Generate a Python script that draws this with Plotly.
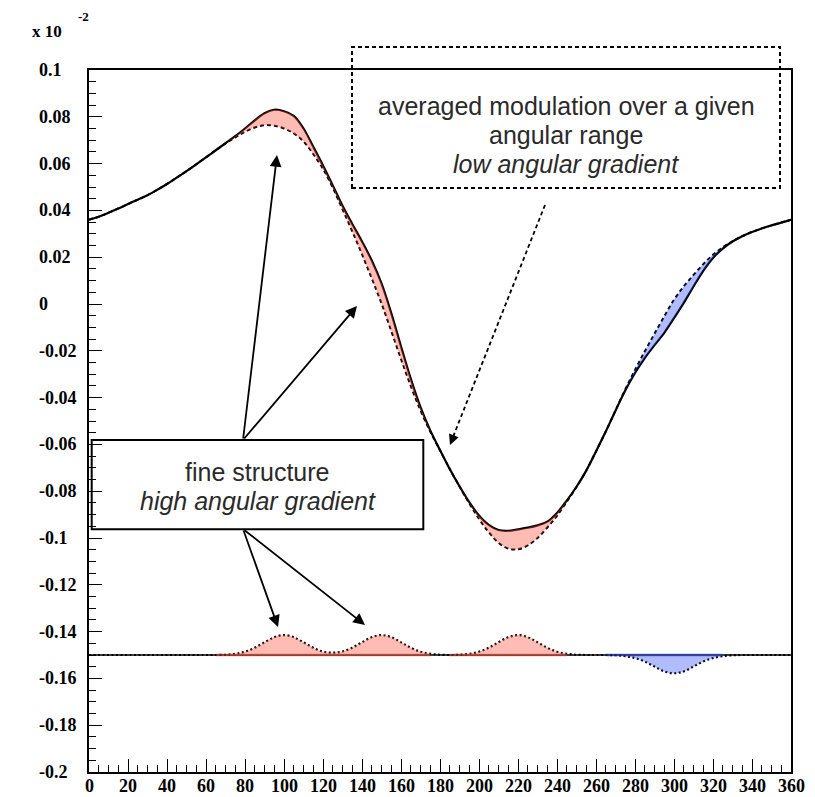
import plotly.graph_objects as go

# ---------------- data (units of 10^-2) ----------------
ANGLE = list(range(0, 361, 5))

AVERAGED = [0.0360, 0.0373, 0.0390, 0.0408, 0.0427, 0.0446, 0.0465, 0.0488, 0.0513, 0.0540,
            0.0568, 0.0597, 0.0627, 0.0657, 0.0686, 0.0712, 0.0736, 0.0754, 0.0764, 0.0762,
            0.0750, 0.0729, 0.0695, 0.0641, 0.0578, 0.0497, 0.0405, 0.0311, 0.0213, 0.0110,
            0.0003, -0.0115, -0.0235, -0.0350, -0.0455, -0.0545, -0.0625, -0.0705, -0.0780, -0.0852,
            -0.0918, -0.0975, -0.1020, -0.1045, -0.1048, -0.1032, -0.1000, -0.0955, -0.0905, -0.0845,
            -0.0782, -0.0712, -0.0630, -0.0545, -0.0455, -0.0365, -0.0282, -0.0203, -0.0127, -0.0053,
            0.0018, 0.0075, 0.0124, 0.0170, 0.0210, 0.0242, 0.0268, 0.0290, 0.0308, 0.0323,
            0.0336, 0.0348, 0.0360]

TOTAL = [0.0360, 0.0373, 0.0390, 0.0408, 0.0427, 0.0446, 0.0465, 0.0488, 0.0513, 0.0540,
         0.0568, 0.0597, 0.0627, 0.0657, 0.0687, 0.0717, 0.0750, 0.0785, 0.0815, 0.0830,
         0.0824, 0.0804, 0.0750, 0.0672, 0.0592, 0.0507, 0.0420, 0.0342, 0.0267, 0.0186,
         0.0088, -0.0039, -0.0181, -0.0319, -0.0441, -0.0540, -0.0624, -0.0705, -0.0779, -0.0847,
         -0.0904, -0.0944, -0.0966, -0.0969, -0.0963, -0.0956, -0.0946, -0.0930, -0.0893, -0.0840,
         -0.0781, -0.0712, -0.0630, -0.0545, -0.0456, -0.0370, -0.0295, -0.0231, -0.0176, -0.0123,
         -0.0060, 0.0005, 0.0075, 0.0142, 0.0197, 0.0237, 0.0267, 0.0290, 0.0308, 0.0323,
         0.0336, 0.0348, 0.0360]

FINE = [-0.1500, -0.1500, -0.1500, -0.1500, -0.1500, -0.1500, -0.1500, -0.1500, -0.1500, -0.1500,
        -0.1500, -0.1500, -0.1500, -0.1500, -0.1499, -0.1495, -0.1486, -0.1469, -0.1446, -0.1424,
        -0.1415, -0.1424, -0.1446, -0.1469, -0.1486, -0.1490, -0.1485, -0.1469, -0.1446, -0.1424,
        -0.1415, -0.1424, -0.1446, -0.1469, -0.1486, -0.1495, -0.1499, -0.1500, -0.1499, -0.1495,
        -0.1486, -0.1469, -0.1446, -0.1424, -0.1415, -0.1424, -0.1446, -0.1469, -0.1486, -0.1495,
        -0.1499, -0.1500, -0.1500, -0.1500, -0.1501, -0.1505, -0.1513, -0.1528, -0.1549, -0.1570,
        -0.1578, -0.1570, -0.1549, -0.1528, -0.1513, -0.1505, -0.1501, -0.1500, -0.1500, -0.1500,
        -0.1500, -0.1500, -0.1500]

BASELINE = -0.15

RED_SEGMENTS = [(65, 125), (125, 175), (185, 245)]
BLUE_SEGMENTS = [(265, 325)]

Y_TICKS = [0.1, 0.08, 0.06, 0.04, 0.02, 0.0, -0.02, -0.04, -0.06, -0.08, -0.1,
           -0.12, -0.14, -0.16, -0.18, -0.2]
Y_TICK_LABELS = ["0.1", "0.08", "0.06", "0.04", "0.02", "0", "-0.02", "-0.04", "-0.06",
                 "-0.08", "-0.1", "-0.12", "-0.14", "-0.16", "-0.18", "-0.2"]
X_TICKS = list(range(0, 361, 20))
X_TICK_LABELS = [str(t) for t in X_TICKS]

RED_FILL = "rgba(255,80,60,0.38)"
BLUE_FILL = "rgba(40,70,240,0.36)"

# ---------------- geometry helpers (pixel -> paper) ----------------
W, H = 815, 797
ML, MR, MT, MB = 89, 24, 70, 25
PW, PH = W - ML - MR, H - MT - MB


def px(x):
    return (x - ML) / PW


def py(y):
    return (H - MB - y) / PH


def seg(lo, hi, arr):
    idx = [i for i, a in enumerate(ANGLE) if lo <= a <= hi]
    return [ANGLE[i] for i in idx], [arr[i] for i in idx]


fig = go.Figure()

# averaged (dashed) curve
fig.add_trace(go.Scatter(x=ANGLE, y=AVERAGED, mode="lines",
                         line=dict(color="black", width=2, dash="4px,3px", shape="spline"),
                         hoverinfo="skip"))
# total (solid) curve
fig.add_trace(go.Scatter(x=ANGLE, y=TOTAL, mode="lines",
                         line=dict(color="black", width=2.2, shape="spline"),
                         hoverinfo="skip"))
# baseline
fig.add_trace(go.Scatter(x=[ANGLE[0], ANGLE[-1]], y=[BASELINE, BASELINE], mode="lines",
                         line=dict(color="black", width=1.3), hoverinfo="skip"))
# fine structure (dotted)
fig.add_trace(go.Scatter(x=ANGLE, y=FINE, mode="lines",
                         line=dict(color="black", width=2.2, dash="2px,2.5px", shape="spline"),
                         hoverinfo="skip"))

# fills between averaged and total curves, and between baseline and fine structure
for segs, col in ((RED_SEGMENTS, RED_FILL), (BLUE_SEGMENTS, BLUE_FILL)):
    for lo, hi in segs:
        xs, d = seg(lo, hi, AVERAGED)
        _, s = seg(lo, hi, TOTAL)
        fig.add_trace(go.Scatter(x=xs, y=d, mode="lines",
                                 line=dict(width=0, shape="spline"), hoverinfo="skip"))
        fig.add_trace(go.Scatter(x=xs, y=s, mode="lines", fill="tonexty", fillcolor=col,
                                 line=dict(width=0, shape="spline"), hoverinfo="skip"))
        _, f = seg(lo, hi, FINE)
        fig.add_trace(go.Scatter(x=xs, y=[BASELINE] * len(xs), mode="lines",
                                 line=dict(width=3, color=col), hoverinfo="skip"))
        fig.add_trace(go.Scatter(x=xs, y=f, mode="lines", fill="tonexty", fillcolor=col,
                                 line=dict(width=0, shape="spline"), hoverinfo="skip"))

tick_font = dict(family="Liberation Serif", size=18, color="black", weight="bold")

annotations = []
for v, lab in zip(Y_TICKS, Y_TICK_LABELS):
    annotations.append(dict(x=px(37), y=v, xref="paper", yref="y", text=lab,
                            showarrow=False, xanchor="left", yanchor="middle", font=tick_font))
for v, lab in zip(X_TICKS, X_TICK_LABELS):
    annotations.append(dict(x=v, y=py(785.5), xref="x", yref="paper", text=lab,
                            showarrow=False, xanchor="center", yanchor="middle", font=tick_font))

annotations.append(dict(x=px(30), y=py(32), xref="paper", yref="paper", text="x 10",
                        showarrow=False, xanchor="left", yanchor="middle",
                        font=dict(family="Liberation Serif", size=17, color="black", weight="bold")))
annotations.append(dict(x=px(76), y=py(17), xref="paper", yref="paper", text="-2",
                        showarrow=False, xanchor="left", yanchor="middle",
                        font=dict(family="Liberation Serif", size=13, color="black", weight="bold")))

txt_font = dict(family="Liberation Sans", size=25, color="#2a2a2a")
for text, x, y in [("averaged modulation over a given", 566, 106),
                   ("angular range", 566, 135),
                   ("<i>low angular gradient</i>", 566, 164),
                   ("fine structure", 257.5, 472),
                   ("<i>high angular gradient</i>", 257.5, 501)]:
    annotations.append(dict(x=px(x), y=py(y), xref="paper", yref="paper", text=text,
                            showarrow=False, xanchor="center", yanchor="middle", font=txt_font))


def dx(p):
    return (p - ML) / 1.95


def dy(p):
    return 0.1 - (p - MT) / 2340.0


arrow_style = dict(showarrow=True, arrowhead=2, arrowsize=1.3, arrowwidth=1.8,
                   arrowcolor="black", xref="x", yref="y", axref="x", ayref="y", text="")
for (tx, ty), (hx, hy) in [((243, 440), (277, 155)), ((243, 440), (357, 306)),
                           ((243, 529), (278, 627)), ((243, 529), (365, 625))]:
    annotations.append(dict(x=dx(hx), y=dy(hy), ax=dx(tx), ay=dy(ty), **arrow_style))

# dashed arrow head
annotations.append(dict(x=dx(450), y=dy(445), ax=5.2, ay=-13, xref="x", yref="y",
                        showarrow=True, arrowhead=2, arrowsize=1.3, arrowwidth=1.6,
                        arrowcolor="black", text=""))

shapes = [
    dict(type="rect", xref="paper", yref="paper", x0=px(91.7), x1=px(423.3),
         y0=py(529.3), y1=py(440), line=dict(color="black", width=2)),
    dict(type="rect", xref="paper", yref="paper", x0=px(352), x1=px(780),
         y0=py(188), y1=py(47), line=dict(color="black", width=2, dash="4px,3px")),
    dict(type="line", xref="x", yref="y", x0=dx(545), y0=dy(205), x1=dx(453), y1=dy(437),
         line=dict(color="black", width=1.8, dash="4px,3px")),
]

fig.update_layout(
    width=W, height=H,
    margin=dict(l=ML, r=MR, t=MT, b=MB),
    paper_bgcolor="white", plot_bgcolor="white",
    showlegend=False, hovermode=False,
    annotations=annotations, shapes=shapes,
    xaxis=dict(range=[0, 360], tickmode="array", tickvals=X_TICKS,
               showticklabels=False, ticks="inside", ticklen=13,
               tickwidth=1.2, tickcolor="black",
               minor=dict(tickmode="linear", tick0=0, dtick=5, ticks="inside",
                          ticklen=7, tickwidth=1.2, tickcolor="black"),
               showline=True, linecolor="black", linewidth=1.5, mirror=True,
               showgrid=False, zeroline=False, automargin=False),
    yaxis=dict(range=[-0.2, 0.1], tickmode="array", tickvals=Y_TICKS,
               showticklabels=False, ticks="inside", ticklen=13, tickwidth=1.2,
               tickcolor="black",
               minor=dict(tickmode="linear", tick0=0, dtick=0.005, ticks="inside",
                          ticklen=7, tickwidth=1.2, tickcolor="black"),
               showline=True, linecolor="black", linewidth=1.5, mirror=True,
               showgrid=False, zeroline=False, automargin=False),
)

fig.write_html("out.html", config={"displayModeBar": False},
               post_script="document.body.style.margin='0';document.body.style.overflow='hidden';")
